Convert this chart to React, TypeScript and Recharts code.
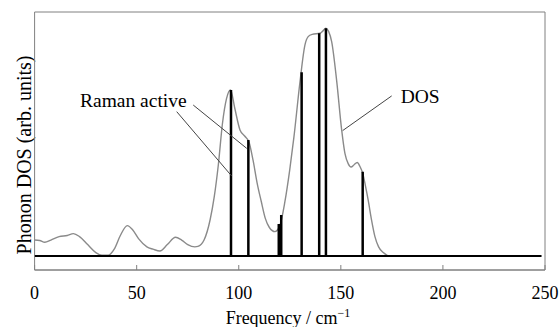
import React from 'react';
import { ComposedChart, Line, XAxis, YAxis, ReferenceLine, ReferenceArea } from 'recharts';

const dosFreq = [0, 2.5, 5, 8, 12, 16, 19, 22, 26, 30, 33, 36, 39, 42, 45.4, 48, 51, 55, 58, 61.4, 65, 69, 72, 75, 78.5, 80, 83, 86, 88, 90, 92, 94, 96, 98, 100.6, 103, 105, 107, 109, 111, 113, 115, 117.7, 120, 122.6, 125, 127, 130, 132.4, 134, 136, 139.8, 141, 142.7, 144, 145.5, 148, 150.4, 152, 153.6, 155, 156.5, 158, 159.5, 160.7, 162, 163.4, 165, 166.7, 168.5, 170.8, 173.2];
const dosValue = [0.07, 0.068, 0.06, 0.07, 0.085, 0.09, 0.098, 0.085, 0.05, 0.015, 0.003, 0.003, 0.03, 0.09, 0.133, 0.115, 0.075, 0.04, 0.03, 0.022, 0.05, 0.082, 0.07, 0.05, 0.04, 0.042, 0.07, 0.16, 0.26, 0.4, 0.58, 0.69, 0.728, 0.65, 0.553, 0.525, 0.5, 0.42, 0.32, 0.24, 0.165, 0.125, 0.107, 0.13, 0.238, 0.38, 0.52, 0.765, 0.925, 0.962, 0.972, 0.977, 0.985, 0.999, 0.985, 0.94, 0.765, 0.553, 0.45, 0.405, 0.39, 0.4, 0.41, 0.39, 0.363, 0.31, 0.245, 0.16, 0.085, 0.04, 0.015, 0];

const ramanFreq = [96.2, 104.7, 119.6, 120.8, 130.8, 139.4, 142.7, 160.7];
const ramanHeight = [0.728, 0.509, 0.14, 0.18, 0.806, 0.977, 0.999, 0.37];

const xTicks = [0, 50, 100, 150, 200, 250];
const baselineEnd = 248.3;

// annotation leader lines (data coordinates)
const ramanLeaders = [
  [{ x: 77.7, y: 0.662 }, { x: 103.9, y: 0.472 }],
  [{ x: 69.6, y: 0.633 }, { x: 96.5, y: 0.351 }],
];
const dosLeader = [{ x: 174.9, y: 0.702 }, { x: 150.9, y: 0.55 }];

const Y_MIN = -0.0614;
const Y_MAX = 1.07;

const dosData = dosFreq.map((x, i) => ({ x, y: dosValue[i] }));
const baselineData = [{ x: 0, y: 0 }, { x: baselineEnd, y: 0 }];

const FONT = '"Liberation Serif", "Times New Roman", serif';

const XTick = (props: any) => {
  const { x, payload } = props;
  return (
    <text x={x} y={299} textAnchor="middle" fontSize={18} fontFamily={FONT} fill="#000">
      {payload.value}
    </text>
  );
};

export default function App() {
  return (
    <div style={{ position: 'absolute', left: 0, top: 0, width: 560, height: 327, background: '#fff', fontFamily: FONT }}>
      <ComposedChart width={560} height={327} margin={{ top: 12, right: 15, left: 34.6, bottom: 0 }}>
        <XAxis
          dataKey="x"
          type="number"
          domain={[0, 250]}
          ticks={xTicks}
          allowDataOverflow
          height={57}
          tickSize={-5}
          tickMargin={21}
          stroke="#808080"
          tick={<XTick />}
        />
        <YAxis type="number" domain={[Y_MIN, Y_MAX]} allowDataOverflow hide />
        <ReferenceArea x1={0} x2={250} y1={Y_MIN} y2={Y_MAX} fill="none" stroke="#808080" strokeWidth={1} ifOverflow="visible" />
        <Line data={dosData} dataKey="y" type="monotone" stroke="#8a8a8a" strokeWidth={1.4} dot={false} isAnimationActive={false} />
        {ramanFreq.map((f, i) => (
          <Line
            key={i}
            data={[{ x: f, y: 0 }, { x: f, y: ramanHeight[i] }]}
            dataKey="y"
            type="linear"
            stroke="#000"
            strokeWidth={2.5}
            dot={false}
            isAnimationActive={false}
          />
        ))}
        <Line data={baselineData} dataKey="y" type="linear" stroke="#000" strokeWidth={2} dot={false} isAnimationActive={false} />
        {ramanLeaders.map((seg, i) => (
          <ReferenceLine key={'r' + i} segment={seg} stroke="#444" strokeWidth={1} ifOverflow="visible" />
        ))}
        <ReferenceLine segment={dosLeader} stroke="#444" strokeWidth={1} ifOverflow="visible" />
        <text x={80} y={106.7} fontSize={19.5} fontFamily={FONT} fill="#000">Raman active</text>
        <text x={400.7} y={103.3} fontSize={19.5} fontFamily={FONT} fill="#000">DOS</text>
        <text x={30.5} y={155} fontSize={20} fontFamily={FONT} fill="#000" textAnchor="middle" transform="rotate(-90, 30.5, 155)">Phonon DOS (arb. units)</text>
        <text x={288} y={324} fontSize={18} fontFamily={FONT} fill="#000" textAnchor="middle">
          Frequency / cm<tspan dy={-7} fontSize={12}>−1</tspan>
        </text>
      </ComposedChart>
    </div>
  );
}
